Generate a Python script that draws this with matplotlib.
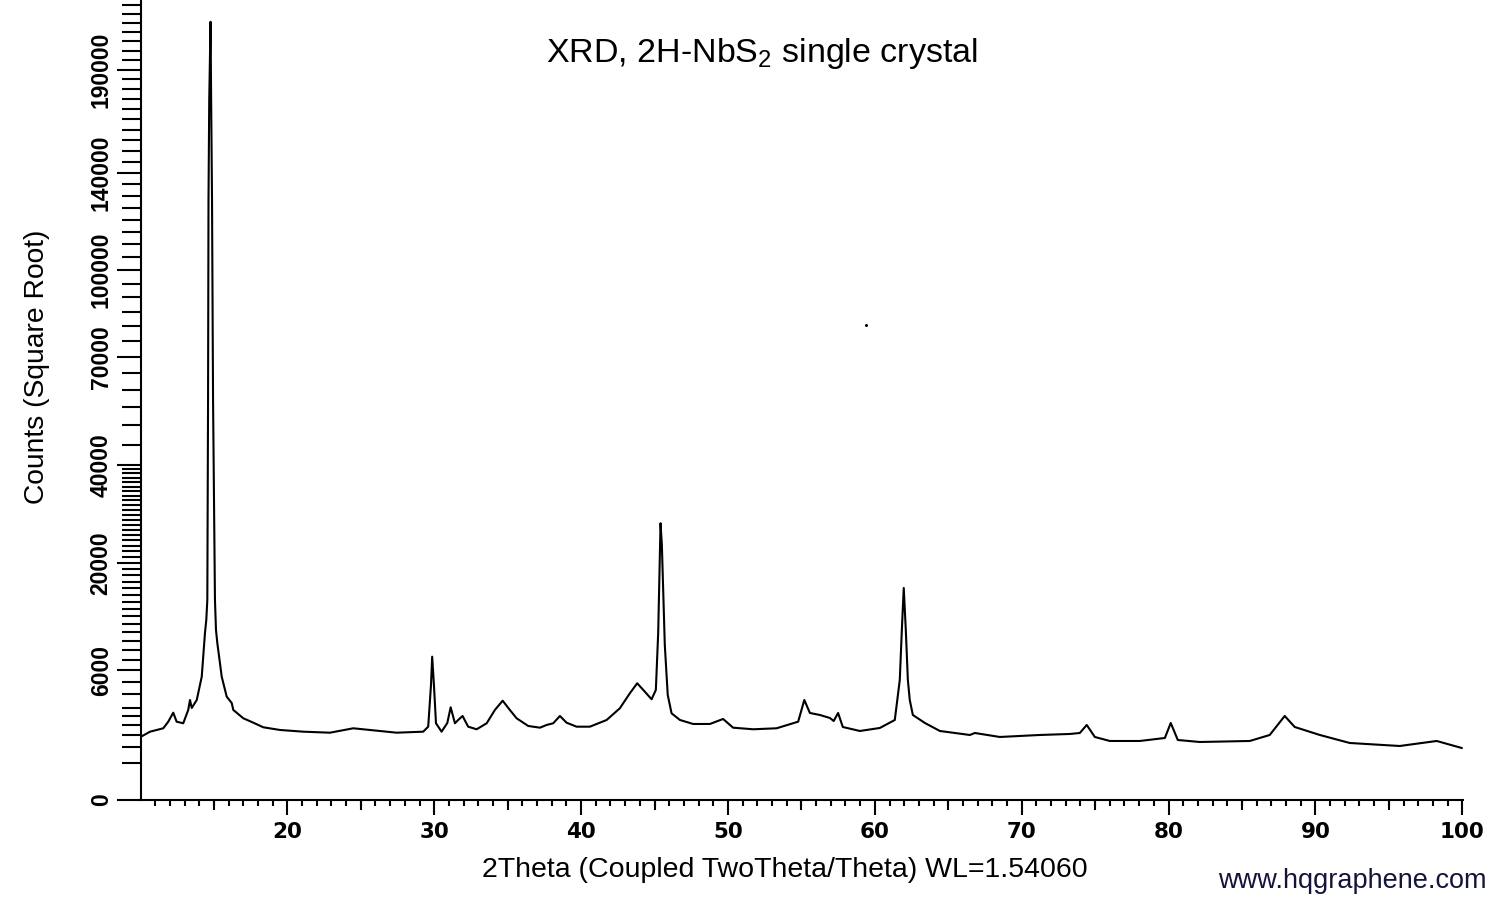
import numpy as np
import matplotlib
matplotlib.use("Agg")
import matplotlib.pyplot as plt
from matplotlib.ticker import FixedLocator, FuncFormatter

# ---- data (2Theta in degrees, counts) ----
two_theta = [10.00, 10.65, 11.55, 11.89, 12.23, 12.46, 12.91, 13.25, 13.37, 13.49,
             13.83, 14.17, 14.39, 14.48, 14.55, 14.60, 14.63, 14.68, 14.77, 14.81,
             14.87, 14.94, 15.07, 15.14, 15.23, 15.53,
             15.87, 16.21, 16.32, 17.00, 17.68, 18.36, 19.50, 21.08, 22.90, 24.49,
             25.62, 27.44, 29.25, 29.59, 29.78, 29.86, 29.98, 30.12, 30.50, 30.89,
             31.12, 31.41, 31.63, 31.93, 32.31, 32.89, 33.57, 34.13, 34.66, 35.15,
             35.61, 36.40, 37.20, 37.65, 38.10, 38.56, 39.01, 39.69, 40.60, 41.74,
             42.64, 43.32, 43.82, 44.34, 44.80, 45.09, 45.25, 45.33, 45.41, 45.50,
             45.60, 45.70, 45.90,
             46.16, 46.73, 47.63, 48.77, 49.67, 50.35, 51.72, 53.31, 54.78, 55.20,
             55.58, 56.26, 56.94, 57.20, 57.50, 57.82, 58.98, 60.34, 61.36, 61.70,
             61.84, 61.97, 62.11, 62.25, 62.38, 62.59, 63.41, 64.43, 66.47, 66.81,
             68.51, 71.23, 73.28,
             73.96, 74.43, 74.98, 76.00, 78.04, 79.75, 80.15, 80.63, 82.13, 85.53,
             86.89, 87.91, 88.59, 90.30, 92.34, 95.74, 98.26, 99.96]
counts = [1415, 1663, 1832, 2185, 2717, 2185, 2097, 2887, 3564, 3017,
          3564, 5419, 9940, 11548, 14257, 57030, 128310, 174650, 215760, 174650,
          128310, 57030, 14257, 10300, 8785, 5419,
          3803, 3354, 2887, 2379, 2130, 1884, 1747, 1663, 1614, 1832,
          1747, 1614, 1663, 1915, 4714, 7319, 4714, 2097, 1663, 2113,
          3063, 2097, 2281, 2515, 1915, 1782, 2097, 2887, 3514, 2887,
          2379, 1952, 1863, 2005, 2097, 2515, 2130, 1915, 1915, 2281,
          2997, 4058, 4854, 4181, 3614, 4313, 9940, 17251, 27290, 23175,
          14980, 8563, 3930,
          2679, 2281, 2059, 2059, 2339, 1863, 1782, 1832, 2185, 3564,
          2698, 2575, 2397, 2224, 2698, 1899, 1697, 1848, 2281, 5132,
          10300, 16020, 10300, 5132, 3564, 2575, 2113, 1697, 1506, 1600,
          1415, 1506, 1553,
          1600, 2005, 1415, 1241, 1241, 1370, 2113, 1283, 1199, 1241,
          1506, 2515, 1899, 1506, 1158, 1039, 1241, 964]
stray_theta = [59.39]
stray_counts = [80420]

y_labeled = [0, 6000, 20000, 40000, 70000, 100000, 140000, 190000]
y_minor = ([500, 1000, 1500, 2000, 2500, 3000]
           + list(range(4000, 40000, 1000))
           + list(range(45000, 230000, 5000)))
x_major = [20, 30, 40, 50, 60, 70, 80, 90, 100]

title = "XRD, 2H-NbS$_\\mathregular{2}$ single crystal"
xlabel = "2Theta (Coupled TwoTheta/Theta) WL=1.54060"
ylabel = "Counts (Square Root)"
watermark = "www.hqgraphene.com"

plt.rcParams['font.family'] = ['Liberation Sans', 'DejaVu Sans']

fig = plt.figure(figsize=(15, 9), dpi=100)
ax = fig.add_axes([140.5/1500, 1 - 800/900, (1463 - 140.5)/1500, 800/900])

ax.plot(two_theta, counts, color='black', lw=1.5, solid_joinstyle='round')
ax.plot(stray_theta, stray_counts, 'o', color='black', ms=1.2)

ax.set_yscale('function', functions=(lambda v: np.sqrt(np.clip(v, 0, None)),
                                     lambda v: np.square(v)))
ax.set_xlim(10, 100.05)
ax.set_ylim(0, 228000)

for s in ['top', 'right']:
    ax.spines[s].set_visible(False)
for s in ['left', 'bottom']:
    ax.spines[s].set_linewidth(1.5)

ax.yaxis.set_major_locator(FixedLocator(y_labeled))
ax.yaxis.set_minor_locator(FixedLocator([v for v in y_minor if v not in y_labeled]))
ax.yaxis.set_major_formatter(FuncFormatter(lambda v, p: f"{int(round(v))}"))
ax.yaxis.set_minor_formatter(FuncFormatter(lambda v, p: ""))
ax.tick_params(axis='y', which='major', direction='out', length=17, width=1.5, pad=3,
               labelsize=16.5)
ax.tick_params(axis='y', which='minor', direction='out', length=14, width=1.5)
for lab in ax.get_yticklabels():
    lab.set_rotation(90)
    lab.set_va('center')
    lab.set_fontweight('bold')

ax.xaxis.set_major_locator(FixedLocator(x_major))
ax.xaxis.set_minor_locator(FixedLocator([v for v in range(11, 101) if v % 10 != 0]))
ax.tick_params(axis='x', which='major', direction='out', length=11, width=1.5, pad=5)
ax.tick_params(axis='x', which='minor', direction='out', length=4, width=1.5)
for lab in ax.get_xticklabels():
    lab.set_fontfamily('DejaVu Sans')
    lab.set_fontweight('bold')
    lab.set_fontsize(15.5)

# medium ticks at the fives
sec = ax.secondary_xaxis('bottom')
sec.set_xticks([v for v in range(15, 100, 10)])
sec.tick_params(axis='x', direction='out', length=7.5, width=1.5, labelbottom=False)
sec.spines['bottom'].set_visible(False)

fig.text(0.508, 1 - 62/900, title, ha='center', va='baseline', fontsize=24.5)
fig.text(785/1500, 1 - 877/900, xlabel, ha='center', va='baseline', fontsize=20.5)
fig.text(37/1500, 1 - 367/900, ylabel, ha='center', va='center', rotation=90,
         fontsize=20.3)
fig.text(1487/1500, 1 - 888/900, watermark, ha='right', va='baseline', fontsize=19.5,
         color='#14143a')

fig.savefig('out.png', dpi=100)
